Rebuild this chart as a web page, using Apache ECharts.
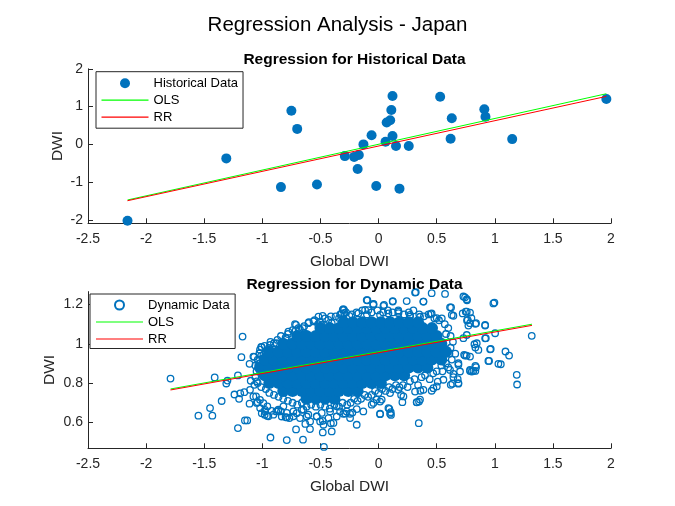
<!DOCTYPE html>
<html>
<head>
    <meta charset="utf-8">
    <title>Regression Analysis - Japan</title>
    <script src="https://cdn.jsdelivr.net/npm/echarts@6/dist/echarts.min.js"></script>
    <style>
        html, body { margin: 0; padding: 0; background: #fff; }
    </style>
</head>
<body>
    <div id="main" style="width:675px;height:506px;"></div>

    <script type="text/javascript">
        // ---- historical data (top plot) ----
        var histX = [-2.16, -1.31, -0.84, -0.75, -0.70, -0.53, -0.29, -0.21, -0.17, -0.18,
                     -0.13, -0.06, -0.02, -0.03, 0.06, 0.07, 0.10, 0.11, 0.12, 0.12,
                     0.15, 0.18, 0.26, 0.53, 0.63, 0.62, 0.91, 0.92, 1.15, 1.96];
        var histY = [-2.02, -0.37, -1.13, 0.89, 0.41, -1.06, -0.31, -0.33, -0.28, -0.65,
                     0.00, 0.24, -1.10, -2.09, 0.07, 0.58, 0.64, 0.91, 1.28, 0.22,
                     -0.04, -1.17, -0.04, 1.26, 0.69, 0.15, 0.93, 0.73, 0.14, 1.20];
        var histOlsX = [-2.16, 1.96];
        var histOlsY = [-1.47, 1.34];
        var histRrX = [-2.16, 1.96];
        var histRrY = [-1.49, 1.27];

        // ---- dynamic data (bottom plot) ----
        // circles that can be told apart (outliers and the ragged rim of the cloud)
        var dynPoints = [
            [-1.79,0.823],[-1.55,0.634],[-1.45,0.673],[-1.43,0.634],[-1.41,0.829],[-1.35,0.709],[-1.31,0.798],[-1.30,0.813],
            [-1.24,0.742],[-1.21,0.571],[-1.21,0.839],[-1.18,0.932],[-1.17,1.037],[-1.19,0.748],[-1.155,0.754],[-1.20,0.72],
            [-1.15,0.61],[-1.13,0.61],[-1.11,0.695],[-1.11,0.898],[-1.10,0.812],[-1.07,0.934],[-1.04,0.703],[-1.02,0.90],
            [-1.01,0.985],[-1.005,0.647],[-0.98,0.639],[-0.96,0.634],[-0.93,0.523],[-0.85,0.466],[-0.79,0.51],[-0.73,0.466],
            [-0.71,0.564],[-0.65,0.512],[-0.59,0.566],[-0.47,0.475],[-0.48,0.549],[-0.41,0.595],[-0.48,0.608],[-0.63,0.592],
            [-0.80,0.627],[-0.84,0.656],[-0.88,0.656],
            [-0.943,0.978],[-0.90,1.003],[-0.80,1.032],[-0.71,1.097],[-0.713,1.068],[-0.652,1.08],[-0.638,1.055],[-0.56,1.114],
            [-0.517,1.139],[-0.489,1.097],[-0.403,1.105],[-0.34,1.131],[-0.308,1.173],[-0.294,1.156],[-0.374,1.08],
            [-1.034,0.898],[-1.02,0.859],[-1.048,0.809],[-1.068,0.791],[-1.054,0.732],[-1.02,0.715],[-0.991,0.698],[-0.957,0.681],
            [-0.977,0.664],
            [-0.92,0.659],[-0.862,0.659],[-0.833,0.63],[-0.79,0.625],[-0.767,0.622],[-0.733,0.656],[-0.704,0.647],[-0.661,0.664],
            [-0.618,0.63],[-0.589,0.605],[-0.532,0.63],[-0.503,0.605],[-0.474,0.588],[-0.431,0.622],[-0.388,0.597],[-0.36,0.63],
            [-0.331,0.656],[-0.274,0.656],[-0.403,0.554],
            [0.32,1.263],[0.572,1.254],[0.744,1.237],[0.761,1.222],[0.997,1.21],[-0.096,1.222],[0.122,1.218],[0.242,1.218],
            [0.386,1.215],[-0.044,1.202],[0.042,1.193],[-0.297,1.173],[-0.116,1.173],[0.171,1.156],[0.271,1.139],[0.449,1.152],
            [0.5,1.131],[0.624,1.185],[0.644,1.143],[0.75,1.164],[0.787,1.159],[0.761,1.119],[0.799,1.131],[0.773,1.093],
            [0.833,1.102],[0.917,1.093],[1.318,1.041],[1.003,1.054],[0.923,1.029],[0.965,0.974],[1.092,0.961],[1.123,0.94],
            [1.052,0.896],[0.951,0.913],[0.833,0.888],[0.787,0.862],[0.816,0.862],[0.833,0.862],[1.189,0.842],[1.192,0.793],
            [0.825,0.998],[0.833,0.981],[0.736,0.944],[0.758,0.94],[0.73,1.029],[0.687,0.893],[0.644,0.847],[0.681,0.82],
            [0.687,0.797],[0.635,0.797],[0.509,0.808],[0.457,0.761],[0.348,0.706],[0.328,0.703],[0.346,0.596],[0.36,0.761],
            [0.314,0.757],[0.107,0.638],[0.093,0.669],[0.105,0.652],[0.013,0.642],[0.013,0.706],[0.205,0.703],[0.194,0.740],
            [-0.188,0.588],[-0.245,0.622],[-0.225,0.65],[-0.288,0.645],
            [-0.102,1.223],[-0.045,1.198],[-0.303,1.176],[-0.317,1.155],[-0.251,1.142],[-0.174,1.155],[-0.088,1.172],[-0.481,1.142],
            [-0.504,1.113],[-0.432,1.122],[-0.604,1.105],[-0.719,1.1],[-0.676,1.074],[-0.776,1.062],[-0.79,1.028],[-0.877,1.003],
            [-0.934,0.994],[-1.005,0.983],[-1.025,0.952],[-1.077,0.935],[-0.991,0.944],
            [-1.106,0.766],[-1.077,0.732],[-1.048,0.699],[-1.019,0.673],[-0.977,0.656],[-0.948,0.631],[-0.905,0.639],[-0.862,0.665],
            [-0.819,0.682],[-0.79,0.648],[-0.733,0.631],[-0.676,0.622],[-0.647,0.665],[-0.604,0.639],[-0.532,0.631],[-0.489,0.648],
            [-0.417,0.656],[-0.36,0.682],[-0.303,0.644],[-0.245,0.644],[-0.188,0.668],[-0.131,0.656],[-0.059,0.690],[-0.016,0.716],
            [0.314,1.261],[0.457,1.258],[-0.044,1.203],[0.047,1.198],[0.122,1.215],[0.386,1.215],[0.013,1.147],[0.085,1.155],
            [0.171,1.164],[0.271,1.147],[0.357,1.138],[0.457,1.155],[0.544,1.13],[0.615,1.186],[0.63,1.147],[0.730,1.241],
            [0.759,1.227],[0.724,1.155],[0.759,1.164],[0.767,1.122],[0.787,1.105],[0.839,1.105],[0.917,1.096],[0.988,1.206],
            [0.759,1.045],[0.845,1.003],[0.859,0.969],[0.917,1.028],[0.96,0.972],[0.945,0.913],[1.031,0.898],[0.787,0.935],
            [0.744,0.94],[0.687,0.901],[0.701,0.859],[0.787,0.867],[0.839,0.881],[0.802,0.859],[0.615,0.867],[0.644,0.830],
            [0.687,0.800],[0.621,0.791],
            [0.558,0.817],[0.501,0.783],[0.472,0.774],[0.386,0.766],[0.357,0.716],[0.329,0.702],[0.214,0.732],[0.171,0.766],
            [0.099,0.749],[0.027,0.716],[0.085,0.673],[0.099,0.644],[0.013,0.644],[-0.044,0.699],
            [-0.98,0.99],[-0.93,1.01],[-0.87,1.02],[-0.84,1.04],[-0.78,1.05],[-0.74,1.07],[-0.69,1.08],[-0.64,1.09],
            [-0.60,1.11],[-0.55,1.12],[-0.52,1.10],[-0.46,1.13],[-0.41,1.14],[-0.37,1.14],[-0.33,1.15],[-0.28,1.16],
            [-0.23,1.15],[-0.19,1.16],[-0.14,1.17],[-0.10,1.15],[-0.06,1.16],[-0.01,1.17],[0.04,1.16],[0.08,1.17],
            [0.12,1.16],[0.17,1.17],[0.22,1.15],[0.26,1.16],[0.30,1.17],[0.35,1.15],[0.39,1.14],[0.43,1.15],
            [0.48,1.13],[0.52,1.12],[0.57,1.10],[0.60,1.08],[0.58,1.05],[0.62,1.04],[0.64,1.01],[0.62,0.98],
            [0.66,0.95],[0.61,0.95],[0.63,0.92],[0.58,0.90],[0.60,0.88],[0.54,0.89],[0.55,0.86],[0.50,0.86],
            [0.47,0.85],[0.44,0.82],[0.40,0.84],[0.37,0.83],[0.34,0.79],[0.31,0.82],[0.27,0.81],[0.25,0.78],
            [0.21,0.79],[0.18,0.78],[0.15,0.79],[0.12,0.77],[0.09,0.78],[0.06,0.76],[0.03,0.77],[0.00,0.75],
            [-0.03,0.76],[-0.06,0.74],[-0.09,0.73],[-0.12,0.74],[-0.15,0.72],[-0.18,0.71],[-0.21,0.72],[-0.24,0.70],
            [-0.27,0.69],[-0.31,0.70],[-0.34,0.68],[-0.38,0.69],[-0.42,0.67],[-0.46,0.68],[-0.50,0.69],[-0.54,0.68],
            [-0.58,0.69],[-0.62,0.68],[-0.66,0.70],[-0.70,0.69],[-0.74,0.70],[-0.78,0.71],[-0.82,0.72],[-0.86,0.73],
            [-0.90,0.74],[-0.94,0.75],[-0.97,0.77],[-1.01,0.78],[-1.04,0.80],[-1.06,0.83],[-1.05,0.86],[-1.06,0.89],
            [-1.04,0.92],[-1.01,0.94],[-1.02,0.97]
        ];
        // the solid middle of the cloud, where the circles overlap completely: x positions per y level
        var dynCoreY = [0.72, 0.76, 0.80, 0.84, 0.88, 0.92, 0.96, 1.00, 1.04, 1.08, 1.11];
        var dynCoreX = [
            [-0.62, -0.54, -0.46, -0.38],
            [-0.82, -0.74, -0.66, -0.58, -0.50, -0.42, -0.34, -0.26, -0.18],
            [-0.94, -0.86, -0.78, -0.70, -0.62, -0.54, -0.46, -0.38, -0.30, -0.22, -0.14, -0.06, 0.02],
            [-0.98, -0.90, -0.82, -0.74, -0.66, -0.58, -0.50, -0.42, -0.34, -0.26, -0.18, -0.10, -0.02, 0.06, 0.14, 0.22],
            [-1.02, -0.94, -0.86, -0.78, -0.70, -0.62, -0.54, -0.46, -0.38, -0.30, -0.22, -0.14, -0.06, 0.02, 0.10, 0.18, 0.26, 0.34, 0.42],
            [-0.98, -0.90, -0.82, -0.74, -0.66, -0.58, -0.50, -0.42, -0.34, -0.26, -0.18, -0.10, -0.02, 0.06, 0.14, 0.22, 0.30, 0.38, 0.46, 0.54],
            [-0.94, -0.86, -0.78, -0.70, -0.62, -0.54, -0.46, -0.38, -0.30, -0.22, -0.14, -0.06, 0.02, 0.10, 0.18, 0.26, 0.34, 0.42, 0.50, 0.58],
            [-0.82, -0.74, -0.66, -0.58, -0.50, -0.42, -0.34, -0.26, -0.18, -0.10, -0.02, 0.06, 0.14, 0.22, 0.30, 0.38, 0.46, 0.54],
            [-0.70, -0.62, -0.54, -0.46, -0.38, -0.30, -0.22, -0.14, -0.06, 0.02, 0.10, 0.18, 0.26, 0.34, 0.42, 0.50],
            [-0.50, -0.42, -0.34, -0.26, -0.18, -0.10, -0.02, 0.06, 0.14, 0.22, 0.30, 0.38, 0.46],
            [-0.30, -0.22, -0.14, -0.06, 0.02, 0.10, 0.18, 0.26, 0.34]
        ];
        var dynOlsX = [-1.79, 1.32];
        var dynOlsY = [0.770, 1.100];
        var dynRrX = [-1.79, 1.32];
        var dynRrY = [0.765, 1.094];

        // tick labels
        var histYTicks = [-2, -1, 0, 1, 2];
        var dynYTicks = [0.6, 0.8, 1, 1.2];

        var blue = '#0072BD';
        var axisColor = '#262626';

        function pairs(xs, ys) {
            var out = [];
            for (var i = 0; i < xs.length; i++) out.push([xs[i], ys[i]]);
            return out;
        }
        var corePoints = [];
        for (var r = 0; r < dynCoreY.length; r++) {
            for (var c = 0; c < dynCoreX[r].length; c++) corePoints.push([dynCoreX[r][c], dynCoreY[r]]);
        }

        function makeXAxis(idx) {
            return {
                type: 'value', gridIndex: idx, min: -2.5, max: 2, interval: 0.5,
                axisLine: { onZero: false, lineStyle: { color: axisColor, width: 1 } },
                axisTick: { inside: true, length: 5, lineStyle: { color: axisColor } },
                axisLabel: { color: axisColor, fontSize: 14, margin: 9 },
                splitLine: { show: false },
                name: 'Global DWI', nameLocation: 'middle', nameGap: 30, nameMoveOverlap: false,
                nameTextStyle: { color: axisColor, fontSize: 15.5 }
            };
        }
        function makeYAxis(idx, min, max, ticks, gap) {
            return {
                type: 'value', gridIndex: idx, min: min, max: max,
                axisLine: { show: true, onZero: false, lineStyle: { color: axisColor, width: 1 } },
                axisTick: { show: true, inside: true, length: 5, customValues: ticks, lineStyle: { color: axisColor } },
                axisLabel: { color: axisColor, fontSize: 14, margin: 5, customValues: ticks },
                splitLine: { show: false },
                name: 'DWI', nameLocation: 'middle', nameGap: gap, nameMoveOverlap: false,
                nameTextStyle: { color: axisColor, fontSize: 15.5 }
            };
        }
        function makeLegend(top, left, names, pad, iconH) {
            return {
                orient: 'vertical', left: left, top: top,
                data: names,
                itemWidth: 47, itemHeight: iconH, itemGap: 4,
                padding: pad,
                backgroundColor: '#fff', borderColor: axisColor, borderWidth: 1, borderRadius: 0,
                textStyle: { color: '#000', fontSize: 13 },
                selectedMode: false
            };
        }
        var lineIcon = 'path://M0,0H48V1.2H0Z';

        var myChart = echarts.init(document.getElementById('main'));
        var option = {
            animation: false,
            backgroundColor: '#fff',
            textStyle: { fontFamily: 'Liberation Sans, Arial, sans-serif' },
            title: [
                { text: 'Regression Analysis - Japan', left: 'center', top: 10,
                  textStyle: { fontSize: 20.5, fontWeight: 'normal', color: '#000' } },
                { text: 'Regression for Historical Data', left: 349.5, textAlign: 'center', top: 47,
                  textStyle: { fontSize: 15.5, fontWeight: 'bold', color: '#000' } },
                { text: 'Regression for Dynamic Data', left: 349.5, textAlign: 'center', top: 272,
                  textStyle: { fontSize: 15.5, fontWeight: 'bold', color: '#000' } }
            ],
            legend: [
                makeLegend(71.7, 96, ['Historical Data', { name: 'OLS', icon: lineIcon }, { name: 'RR', icon: lineIcon }], [5, 5, 4.5, 5.5], 10),
                makeLegend(294, 90, ['Dynamic Data', { name: 'OLS', icon: lineIcon }, { name: 'RR', icon: lineIcon }], [4.5, 5.5, 3, 6], 9)
            ],
            grid: [
                { left: 88, top: 68.8, width: 523, height: 154.5 },
                { left: 88, top: 291.6, width: 523, height: 156.7 }
            ],
            xAxis: [makeXAxis(0), makeXAxis(1)],
            yAxis: [makeYAxis(0, -2.087, 2, histYTicks, 22), makeYAxis(1, 0.468, 1.266, dynYTicks, 30)],
            series: [
                { name: 'Historical Data', type: 'scatter', xAxisIndex: 0, yAxisIndex: 0,
                  data: pairs(histX, histY), symbol: 'circle', symbolSize: 10,
                  itemStyle: { color: blue, opacity: 1 }, silent: true },
                { name: 'OLS', type: 'line', xAxisIndex: 0, yAxisIndex: 0,
                  data: pairs(histOlsX, histOlsY), symbol: 'none',
                  itemStyle: { color: '#00FF00' }, lineStyle: { color: '#00FF00', width: 1 }, silent: true },
                { name: 'RR', type: 'line', xAxisIndex: 0, yAxisIndex: 0,
                  data: pairs(histRrX, histRrY), symbol: 'none',
                  itemStyle: { color: '#FF0000' }, lineStyle: { color: '#FF0000', width: 1 }, silent: true },

                { name: 'Dynamic Data', type: 'scatter', xAxisIndex: 1, yAxisIndex: 1,
                  data: dynPoints, symbol: 'circle', symbolSize: 6.5,
                  itemStyle: { color: 'rgba(0,0,0,0)', borderColor: blue, borderWidth: 1.3, opacity: 1 }, silent: true },
                { name: 'Dynamic Data (dense)', type: 'scatter', xAxisIndex: 1, yAxisIndex: 1,
                  data: corePoints, symbol: 'circle', symbolSize: 12,
                  itemStyle: { color: blue, opacity: 1 }, silent: true },
                { name: 'OLS', type: 'line', xAxisIndex: 1, yAxisIndex: 1,
                  data: pairs(dynOlsX, dynOlsY), symbol: 'none',
                  itemStyle: { color: '#00FF00' }, lineStyle: { color: '#00FF00', width: 1 }, silent: true },
                { name: 'RR', type: 'line', xAxisIndex: 1, yAxisIndex: 1,
                  data: pairs(dynRrX, dynRrY), symbol: 'none',
                  itemStyle: { color: '#FF0000' }, lineStyle: { color: '#FF0000', width: 1 }, silent: true }
            ]
        };
        myChart.setOption(option);
    </script>
</body>
</html>
